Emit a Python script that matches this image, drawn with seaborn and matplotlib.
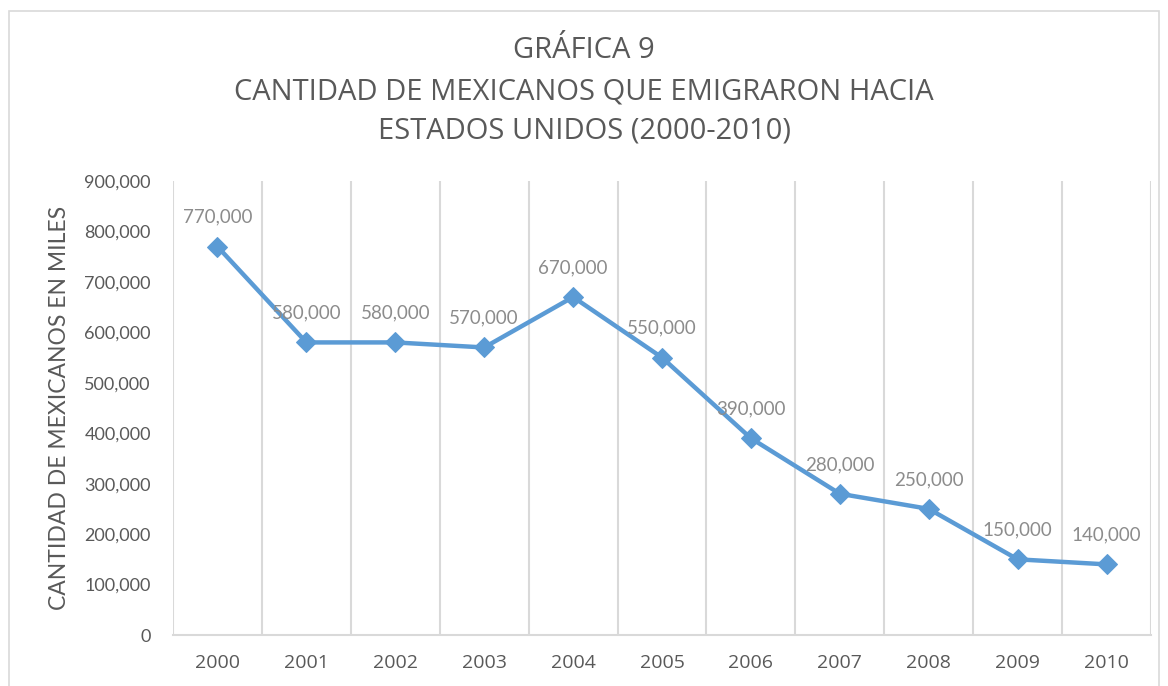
import pandas as pd
import matplotlib.pyplot as plt
import seaborn as sns
from matplotlib.ticker import FuncFormatter, FixedLocator
from matplotlib.patches import Rectangle

# === Data ===
years = ["2000", "2001", "2002", "2003", "2004", "2005", "2006", "2007", "2008", "2009", "2010"]
emigrants = [770000, 580000, 580000, 570000, 670000, 550000, 390000, 280000, 250000, 150000, 140000]

df = pd.DataFrame({"year": years, "emigrants": emigrants})

# === Style ===
sns.set_theme(style="white")
plt.rcParams["font.family"] = ["Lato", "DejaVu Sans"]
TEXT = "#595959"
LABEL = "#8c8c8c"
GRID = "#d9d9d9"
BLUE = "#5b9bd5"

fig = plt.figure(figsize=(11.68, 6.86), dpi=100)
ax = fig.add_axes([173 / 1168, 1 - 635 / 686, (1151 - 173) / 1168, (635 - 181) / 686])

sns.lineplot(data=df, x="year", y="emigrants", ax=ax, color=BLUE, linewidth=3.2,
             marker="D", markersize=10, markeredgecolor=BLUE, sort=False)

# data labels
for i, v in enumerate(emigrants):
    ax.annotate(f"{v:,}", (i, v), xytext=(0, 15), textcoords="offset points",
                ha="center", va="bottom", fontsize=13.5, color=LABEL)

ax.set_xlim(-0.5, len(years) - 0.5)
ax.set_ylim(0, 900000)
ax.yaxis.set_major_locator(FixedLocator(range(0, 900001, 100000)))
ax.yaxis.set_major_formatter(FuncFormatter(lambda v, p: f"{int(v):,}"))

# vertical gridlines between categories (Excel style)
ax.xaxis.set_minor_locator(FixedLocator([i - 0.5 for i in range(len(years) + 1)]))
ax.grid(which="minor", axis="x", color=GRID, linewidth=1.5)
ax.grid(which="major", visible=False)

for side in ["top", "right", "left"]:
    ax.spines[side].set_visible(False)
ax.spines["bottom"].set_color(GRID)
ax.spines["bottom"].set_linewidth(1.5)

ax.tick_params(axis="both", which="both", length=0, labelsize=13, colors=TEXT)
ax.tick_params(axis="x", pad=14)
ax.tick_params(axis="y", pad=16)
for t in ax.get_xticklabels():
    t.set_fontsize(14)
    t.set_family(["Open Sans", "DejaVu Sans"])

ax.set_xlabel("")
ax.set_ylabel("CANTIDAD DE MEXICANOS EN MILES", fontsize=16.5, color=TEXT, labelpad=10)

title_kw = dict(ha="center", va="center", fontsize=21, color=TEXT,
                family=["Open Sans", "DejaVu Sans"])
fig.text(0.5, 1 - 50 / 686, "GRÁFICA 9", **title_kw)
fig.text(0.5, 1 - 92 / 686, "CANTIDAD DE MEXICANOS QUE EMIGRARON HACIA", **title_kw)
fig.text(0.5, 1 - 131 / 686, "ESTADOS UNIDOS (2000-2010)", **title_kw)

# chart border
fig.patches.append(Rectangle((9 / 1168, -0.01), 1150 / 1168, 1 - 11 / 686 + 0.01,
                             transform=fig.transFigure, fill=False, edgecolor=GRID, linewidth=1.2))

plt.savefig("out.png", dpi=100)
plt.close()
